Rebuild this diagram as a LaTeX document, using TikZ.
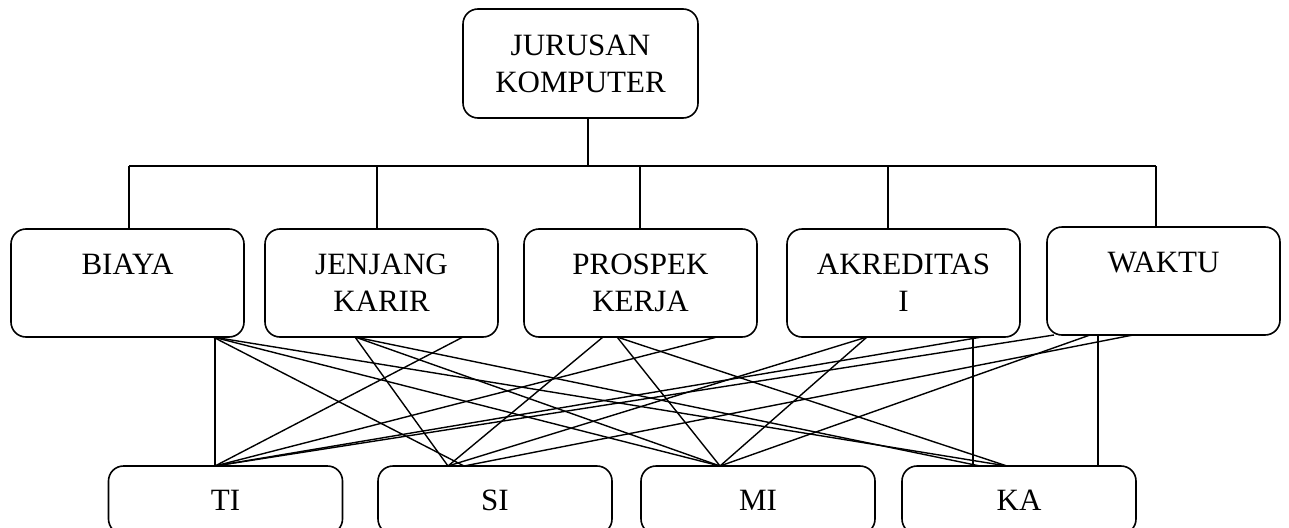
\documentclass[tikz,border=0pt]{standalone}
\usepackage{fontspec}
\setmainfont{Liberation Serif}
\begin{document}
\begin{tikzpicture}[x=1pt,y=-1pt,
  box/.style={draw, rounded corners=15pt, line width=1.6pt, minimum width=233pt,
    minimum height=108pt, inner sep=0pt, align=center,
    font=\fontsize{31}{37}\selectfont},
  lowbox/.style={box, minimum width=234pt, minimum height=68pt},
  tree/.style={line width=1.3pt},
  conn/.style={line width=1.4pt}]
\useasboundingbox (0,0) rectangle (1289,527);
% top
\node[box, minimum width=235pt, minimum height=109pt] (top) at (580.5,63.5) {JURUSAN\\KOMPUTER};
% criteria
\node[box] (biaya) at (127.5,283) {BIAYA\\~};
\node[box] (jenjang) at (381.5,283) {JENJANG\\KARIR};
\node[box] (prospek) at (640.5,283) {PROSPEK\\KERJA};
\node[box] (akred) at (903.5,283) {AKREDITAS\\I};
\node[box] (waktu) at (1163.5,281) {WAKTU\\~};
% alternatives
\node[lowbox] (ti) at (225.5,500) {TI};
\node[lowbox] (si) at (495,500) {SI};
\node[lowbox] (mi) at (758,500) {MI};
\node[lowbox] (ka) at (1019,500) {KA};
% tree
\coordinate (stub) at (588,166);
\coordinate (d1) at (129,166);
\coordinate (d2) at (377,166);
\coordinate (d3) at (640,166);
\coordinate (d4) at (888,166);
\coordinate (d5) at (1156,166);
\draw[tree] (top.south -| stub) -- (stub);
\draw[tree] (d1) -- (d5);
\draw[tree] (d1) -- (biaya.north -| d1);
\draw[tree] (d2) -- (jenjang.north -| d2);
\draw[tree] (d3) -- (prospek.north -| d3);
\draw[tree] (d4) -- (akred.north -| d4);
\draw[tree] (d5) -- (waktu.north -| d5);
% connector end points
\coordinate (tA) at (215,466);
\coordinate (sA) at (448,466);
\coordinate (sB) at (464,466);
\coordinate (mA) at (720,466);
\coordinate (kA) at (980,466);
\coordinate (kB) at (1007,466);
\coordinate (kV1) at (973,466);
\coordinate (kV2) at (1098,466);
\coordinate (bA) at (213,337);
\coordinate (bV) at (215,337);
\coordinate (jA) at (355,337);
\coordinate (jB) at (463,337);
\coordinate (pA) at (603,337);
\coordinate (pB) at (617,337);
\coordinate (pC) at (717,337);
\coordinate (aA) at (867,337);
\coordinate (aB) at (982,337);
\coordinate (aV) at (973,337);
\coordinate (wA) at (1054,335);
\coordinate (wB) at (1090,335);
\coordinate (wC) at (1133,335);
\coordinate (wV) at (1098,335);
% to TI
\draw[conn] (bV) -- (tA);
\draw[conn] (jB) -- (tA);
\draw[conn] (pC) -- (tA);
\draw[conn] (aB) -- (tA);
\draw[conn] (wA) -- (tA);
% to SI
\draw[conn] (bA) -- (sB);
\draw[conn] (jA) -- (sA);
\draw[conn] (pA) -- (sA);
\draw[conn] (aA) -- (sA);
\draw[conn] (wC) -- (sB);
% to MI
\draw[conn] (bA) -- (mA);
\draw[conn] (jA) -- (mA);
\draw[conn] (pB) -- (mA);
\draw[conn] (aA) -- (mA);
\draw[conn] (wB) -- (mA);
% to KA
\draw[conn] (bA) -- (kB);
\draw[conn] (jA) -- (kA);
\draw[conn] (pB) -- (kB);
\draw[conn] (aV) -- (kV1);
\draw[conn] (wV) -- (kV2);
\end{tikzpicture}
\end{document}
